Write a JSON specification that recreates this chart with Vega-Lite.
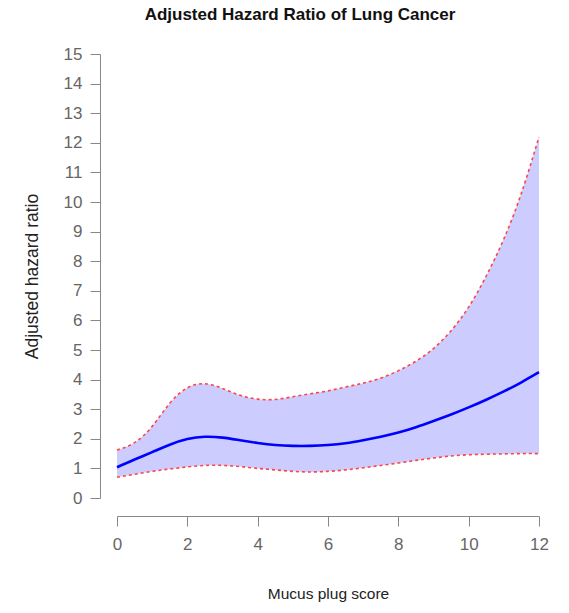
{
  "$schema": "https://vega.github.io/schema/vega-lite/v6.json",
  "autosize": "none",
  "width": 422,
  "height": 444,
  "padding": {"left": 117, "top": 54, "right": 30, "bottom": 115},
  "background": "white",
  "config": {
    "view": {"stroke": null},
    "font": "Liberation Sans",
    "axisY": {
      "grid": false,
      "offset": 17,
      "tickSize": 10,
      "labelPadding": 8,
      "labelFontSize": 17,
      "labelColor": "#666666",
      "labelFont": "Liberation Sans",
      "labelFlush": false,
      "labelOverlap": false,
      "domainColor": "#888888",
      "tickColor": "#888888",
      "titleFontSize": 17.5,
      "titleFontWeight": "normal",
      "titleColor": "#222222",
      "titleFont": "Liberation Sans",
      "titlePadding": 22
    }
  },
  "title": {
    "text": "Adjusted Hazard Ratio of Lung Cancer",
    "fontSize": 17,
    "fontWeight": "bold",
    "font": "Liberation Sans",
    "color": "#111111",
    "anchor": "middle",
    "frame": "group",
    "dx": -28,
    "offset": 21
  },
  "data": {
    "values": [
      {"x": 0, "est": 1.04, "lo": 0.7, "hi": 1.62},
      {"x": 0.5, "est": 1.3, "lo": 0.8, "hi": 1.87},
      {"x": 1, "est": 1.55, "lo": 0.9, "hi": 2.42},
      {"x": 1.5, "est": 1.8, "lo": 0.98, "hi": 3.2},
      {"x": 2, "est": 1.99, "lo": 1.05, "hi": 3.72},
      {"x": 2.5, "est": 2.07, "lo": 1.1, "hi": 3.86},
      {"x": 3, "est": 2.04, "lo": 1.1, "hi": 3.7},
      {"x": 3.5, "est": 1.95, "lo": 1.06, "hi": 3.47},
      {"x": 4, "est": 1.86, "lo": 1.0, "hi": 3.34},
      {"x": 4.5, "est": 1.79, "lo": 0.95, "hi": 3.33},
      {"x": 5, "est": 1.76, "lo": 0.9, "hi": 3.42},
      {"x": 5.5, "est": 1.76, "lo": 0.88, "hi": 3.52},
      {"x": 6, "est": 1.79, "lo": 0.9, "hi": 3.62},
      {"x": 6.5, "est": 1.85, "lo": 0.95, "hi": 3.75},
      {"x": 7, "est": 1.95, "lo": 1.02, "hi": 3.88},
      {"x": 7.5, "est": 2.07, "lo": 1.1, "hi": 4.05},
      {"x": 8, "est": 2.21, "lo": 1.18, "hi": 4.3},
      {"x": 8.5, "est": 2.39, "lo": 1.27, "hi": 4.62},
      {"x": 9, "est": 2.6, "lo": 1.35, "hi": 5.05},
      {"x": 9.5, "est": 2.82, "lo": 1.42, "hi": 5.65},
      {"x": 10, "est": 3.06, "lo": 1.46, "hi": 6.45},
      {"x": 10.5, "est": 3.32, "lo": 1.48, "hi": 7.5},
      {"x": 11, "est": 3.6, "lo": 1.49, "hi": 8.75},
      {"x": 11.5, "est": 3.91, "lo": 1.5, "hi": 10.3},
      {"x": 12, "est": 4.25, "lo": 1.5, "hi": 12.2}
    ]
  },
  "encoding": {
    "x": {
      "field": "x",
      "type": "quantitative",
      "scale": {"domain": [0, 12], "nice": false, "zero": false},
      "axis": {
        "title": "Mucus plug score",
        "values": [0, 2, 4, 6, 8, 10, 12],
        "grid": false,
        "offset": 18,
        "tickSize": 10,
        "labelPadding": 10,
        "labelFontSize": 17,
        "labelColor": "#666666",
        "labelFont": "Liberation Sans",
        "labelFlush": false,
        "labelOverlap": false,
        "domainColor": "#888888",
        "tickColor": "#888888",
        "titleFontSize": 15.5,
        "titleFontWeight": "normal",
        "titleColor": "#222222",
        "titleFont": "Liberation Sans",
        "titlePadding": 34
      }
    }
  },
  "layer": [
    {
      "mark": {"type": "area", "color": "#ccccff", "interpolate": "natural"},
      "encoding": {
        "y": {
          "field": "lo",
          "type": "quantitative",
          "scale": {"domain": [0, 15], "nice": false},
          "axis": {"title": "Adjusted hazard ratio", "values": [0, 1, 2, 3, 4, 5, 6, 7, 8, 9, 10, 11, 12, 13, 14, 15]}
        },
        "y2": {"field": "hi"}
      }
    },
    {
      "mark": {"type": "line", "color": "#ff4444", "strokeWidth": 1.6, "strokeDash": [3, 3], "interpolate": "natural"},
      "encoding": {"y": {"field": "hi", "type": "quantitative", "axis": {"title": "Adjusted hazard ratio", "values": [0, 1, 2, 3, 4, 5, 6, 7, 8, 9, 10, 11, 12, 13, 14, 15]}}}
    },
    {
      "mark": {"type": "line", "color": "#ff4444", "strokeWidth": 1.6, "strokeDash": [3, 3], "interpolate": "natural"},
      "encoding": {"y": {"field": "lo", "type": "quantitative", "axis": {"title": "Adjusted hazard ratio", "values": [0, 1, 2, 3, 4, 5, 6, 7, 8, 9, 10, 11, 12, 13, 14, 15]}}}
    },
    {
      "mark": {"type": "line", "color": "#0000ff", "strokeWidth": 2.6, "interpolate": "natural"},
      "encoding": {"y": {"field": "est", "type": "quantitative", "axis": {"title": "Adjusted hazard ratio", "values": [0, 1, 2, 3, 4, 5, 6, 7, 8, 9, 10, 11, 12, 13, 14, 15]}}}
    }
  ]
}
